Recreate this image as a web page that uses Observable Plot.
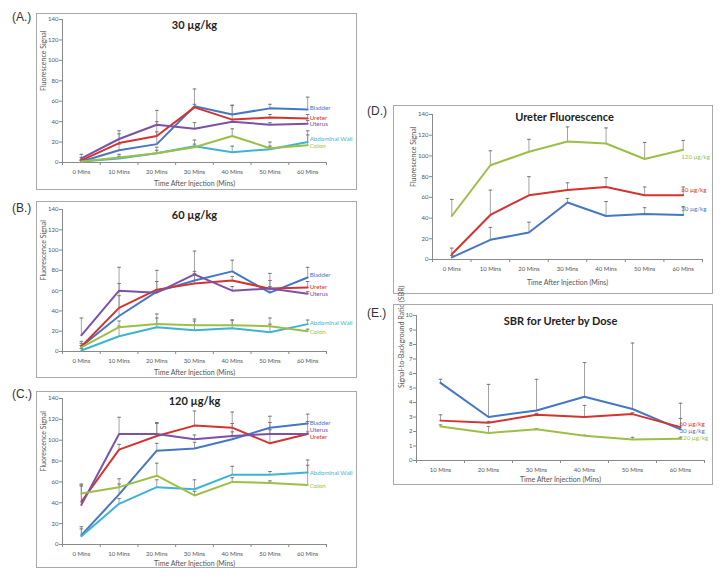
<!DOCTYPE html>
<html>
<head>
<meta charset="utf-8">
<script src="https://cdn.jsdelivr.net/npm/d3@7"></script>
<script src="https://cdn.jsdelivr.net/npm/@observablehq/plot@0.6"></script>
<style>
  html, body { margin: 0; padding: 0; background: #fff; }
  #page { position: relative; width: 726px; height: 581px; overflow: hidden; background: #fff; }
  .panel { position: absolute; }
  .panel svg { display: block; outline: 1.5px solid #a9a9a9; outline-offset: -1.5px; }
  .tag { position: absolute; font-family: "Liberation Sans", Arial, sans-serif; font-size: 12px; color: #333; line-height: 12px; }
</style>
</head>
<body>
<div id="page"></div>
<script>
// ---------- DATA ----------
const minutes = [0, 10, 20, 30, 40, 50, 60];
const sbrMinutes = [10, 20, 30, 40, 50, 60];
const tissues = ["Bladder", "Ureter", "Uterus", "Abdominal Wall", "Colon"];
const doses = ["120 µg/kg", "60 µg/kg", "30 µg/kg"];
const sbrDoses = ["30 µg/kg", "60 µg/kg", "120 µg/kg"];
const fluorTicks = [0, 20, 40, 60, 80, 100, 120, 140];
const sbrTicks = [0, 1, 2, 3, 4, 5, 6, 7, 8, 9, 10];

// (A.) 30 µg/kg
const a_bladder = [1, 12, 18, 55, 47, 53, 52];
const a_bladder_err = [2, 6, 33, 17, 9, 4, 12];
const a_ureter = [2, 19, 26, 54, 42, 44, 43];
const a_ureter_err = [3, 12, 4, 3, 14, 3, 4];
const a_uterus = [4, 23, 37, 33, 40, 37, 38];
const a_uterus_err = [4, 5, 3, 6, 2, 2, 3];
const a_abdwall = [1, 4, 9, 16, 10, 13, 20];
const a_abdwall_err = [1, 2, 3, 6, 6, 7, 11];
const a_colon = [1, 5, 9, 15, 26, 14, 17];
const a_colon_err = [1, 3, 6, 3, 7, 2, 10];

// (B.) 60 µg/kg
const b_bladder = [5, 35, 59, 70, 79, 58, 73];
const b_bladder_err = [5, 20, 21, 29, 11, 19, 10];
const b_ureter = [5, 43, 61, 67, 70, 62, 63];
const b_ureter_err = [3, 24, 8, 10, 4, 8, 6];
const b_uterus = [16, 60, 58, 76, 60, 62, 57];
const b_uterus_err = [17, 23, 3, 3, 4, 2, 2];
const b_abdwall = [1, 15, 24, 21, 23, 19, 27];
const b_abdwall_err = [2, 10, 13, 11, 8, 14, 4];
const b_colon = [4, 24, 27, 26, 26, 25, 20];
const b_colon_err = [2, 6, 6, 4, 5, 2, 2];

// (C.) 120 µg/kg
const c_bladder = [9, 48, 90, 92, 101, 112, 116];
const c_bladder_err = [8, 10, 7, 6, 7, 5, 9];
const c_ureter = [41, 91, 104, 114, 112, 97, 106];
const c_ureter_err = [15, 5, 12, 14, 15, 26, 12];
const c_uterus = [38, 106, 106, 101, 104, 106, 106];
const c_uterus_err = [20, 16, 11, 4, 12, 4, 2];
const c_abdwall = [8, 39, 55, 53, 67, 67, 69];
const c_abdwall_err = [7, 5, 7, 9, 8, 3, 12];
const c_colon = [49, 55, 66, 47, 60, 59, 57];
const c_colon_err = [8, 8, 12, 4, 4, 2, 19];

// (D.) Ureter Fluorescence
const d_120 = [42, 91, 104, 114, 112, 97, 106];
const d_120_err = [16, 14, 12, 14, 15, 16, 9];
const d_60 = [5, 43, 62, 67, 70, 62, 62];
const d_60_err = [6, 24, 18, 7, 9, 8, 8];
const d_30 = [2, 19, 26, 55, 42, 44, 43];
const d_30_err = [2, 12, 10, 4, 14, 6, 8];

// (E.) SBR for Ureter by Dose
const e_30 = [5.35, 3.0, 3.45, 4.4, 3.55, 2.15];
const e_30_err = [0.25, 2.25, 2.15, 2.35, 4.55, 1.8];
const e_60 = [2.75, 2.6, 3.15, 3.0, 3.2, 2.3];
const e_60_err = [0.4, 0.1, 0.1, 0.8, 0.1, 0.6];
const e_120 = [2.35, 1.9, 2.15, 1.7, 1.45, 1.5];
const e_120_err = [0.1, 0.45, 0.05, 0.05, 0.15, 0.1];

// ---------- STYLE ----------
const BLUE = "#4677c4", RED = "#d5332f", PURPLE = "#7b52a6", CYAN = "#3db3d6", GREEN = "#9cbf45";
const tissueColors = [BLUE, RED, PURPLE, CYAN, GREEN];
const doseColors = [GREEN, RED, BLUE];
const AXIS = "#8a8a8a", TEXT = "#555";
const FONT = "Lato, 'Open Sans', sans-serif";

const capSymbol = {
  draw(ctx, size) { const r = Math.sqrt(size / Math.PI); ctx.moveTo(-r, 0); ctx.lineTo(r, 0); }
};

function buildRows(xs, names, valueLists, errLists) {
  const rows = [];
  names.forEach((name, i) => {
    xs.forEach((x, j) => rows.push({series: name, x, v: valueLists[i][j], e: errLists[i][j]}));
  });
  return rows;
}

function panel(cfg) {
  const rows = buildRows(cfg.xs, cfg.names, cfg.values, cfg.errs);
  const [x0, x1] = cfg.xDomain;
  const ymax = cfg.yTicks[cfg.yTicks.length - 1];
  const boundaries = d3.range(x0, x1 + 0.001, 10);
  const labelMarks = cfg.names.map((name, i) => {
    const last = rows.filter(r => r.series === name).slice(-1);
    return Plot.text(last, {
      x: "x", y: "v", text: d => d.series, fill: cfg.colors[i],
      textAnchor: "start", dx: cfg.labelDx, dy: cfg.labelDy[i], fontSize: 6.2
    });
  });
  const svg = Plot.plot({
    width: cfg.width, height: cfg.height,
    marginLeft: cfg.ml, marginRight: cfg.mr, marginTop: cfg.mt, marginBottom: cfg.mb,
    style: {fontFamily: FONT, fontSize: "6px", color: TEXT, background: "#fff", overflow: "visible"},
    x: {domain: cfg.xDomain},
    y: {domain: [0, ymax]},
    color: {domain: cfg.names, range: cfg.colors},
    marks: [
      Plot.ruleY([0], {x1: x0, x2: x1, stroke: AXIS, strokeWidth: 1}),
      Plot.ruleX([x0], {y1: 0, y2: ymax, stroke: AXIS, strokeWidth: 1}),
      Plot.axisY({ticks: cfg.yTicks, tickSize: 3, tickPadding: 1, stroke: AXIS, label: null}),
      Plot.axisX({ticks: boundaries, tickSize: 3, stroke: AXIS, tickFormat: () => "", label: null}),
      Plot.axisX({ticks: cfg.xs, tickSize: 0, tickPadding: 7, tickFormat: d => d + " Mins", label: null}),
      Plot.ruleX(rows, {x: "x", y1: "v", y2: d => d.v + d.e, stroke: "#8c8c8c", strokeWidth: 0.8}),
      Plot.dot(rows, {x: "x", y: d => d.v + d.e, symbol: capSymbol, r: 1.8, stroke: "#777", strokeWidth: 1, fill: "none"}),
      Plot.line(rows, {x: "x", y: "v", z: "series", stroke: "series", strokeWidth: 2}),
      ...labelMarks,
      Plot.text([cfg.title], {frameAnchor: "top", lineAnchor: "middle", dx: cfg.titleDx || 0, dy: cfg.titleDy, fontSize: 11, fontWeight: "bold", fill: "#222"}),
      Plot.text(["Time After Injection (Mins)"], {frameAnchor: "bottom", lineAnchor: "middle", dy: cfg.xTitleDy, fontSize: 7, fill: TEXT}),
      Plot.text([cfg.yTitle], {frameAnchor: "left", rotate: -90, lineAnchor: "middle", dx: cfg.yTitleDx, fontSize: 7, fill: TEXT})
    ]
  });
  const holder = document.createElement("div");
  holder.className = "panel";
  holder.style.left = cfg.left + "px";
  holder.style.top = cfg.top + "px";
  holder.appendChild(svg);
  document.getElementById("page").appendChild(holder);
  const tag = document.createElement("div");
  tag.className = "tag";
  tag.textContent = cfg.tag;
  tag.style.left = cfg.tagPos[0] + "px";
  tag.style.top = cfg.tagPos[1] + "px";
  document.getElementById("page").appendChild(tag);
}

const tissueCommon = {
  xs: minutes, names: tissues, colors: tissueColors, xDomain: [-5, 65], yTicks: fluorTicks,
  width: 321, height: 177, ml: 26, mr: 31, yTitle: "Fluorescence Signal", yTitleDx: -19, labelDx: 2
};

panel({...tissueCommon, tag: "(A.)", tagPos: [12, 11], left: 36, top: 13, mt: 6, mb: 28,
  title: "30 µg/kg", titleDy: 6, xTitleDy: 21,
  values: [a_bladder, a_ureter, a_uterus, a_abdwall, a_colon],
  errs: [a_bladder_err, a_ureter_err, a_uterus_err, a_abdwall_err, a_colon_err],
  labelDy: [-1, -1, 0.5, -3, 0.5]});

panel({...tissueCommon, tag: "(B.)", tagPos: [12, 202], left: 36, top: 201, mt: 8, mb: 27,
  title: "60 µg/kg", titleDy: 6, xTitleDy: 21,
  values: [b_bladder, b_ureter, b_uterus, b_abdwall, b_colon],
  errs: [b_bladder_err, b_ureter_err, b_uterus_err, b_abdwall_err, b_colon_err],
  labelDy: [-2, -1, 0.5, -1, 0.5]});

panel({...tissueCommon, tag: "(C.)", tagPos: [12, 388], left: 36, top: 391, mt: 7, mb: 24,
  title: "120 µg/kg", titleDy: 3, xTitleDy: 19,
  values: [c_bladder, c_ureter, c_uterus, c_abdwall, c_colon],
  errs: [c_bladder_err, c_ureter_err, c_uterus_err, c_abdwall_err, c_colon_err],
  labelDy: [-0.5, 3.5, -3.5, 0, 1]});

panel({xs: minutes, names: doses, colors: doseColors, xDomain: [-5, 65], yTicks: fluorTicks,
  tag: "(D.)", tagPos: [367, 105], left: 393, top: 105, width: 320, height: 189,
  ml: 39, mr: 11, mt: 9, mb: 35, title: "Ureter Fluorescence", titleDy: 3, titleDx: -3, xTitleDy: 23,
  yTitle: "Fluorescence Signal", yTitleDx: -19, labelDx: -2,
  values: [d_120, d_60, d_30], errs: [d_120_err, d_60_err, d_30_err],
  labelDy: [7, -5, -6]});

panel({xs: sbrMinutes, names: sbrDoses, colors: [BLUE, RED, GREEN],
  xDomain: [5, 65], yTicks: sbrTicks,
  tag: "(E.)", tagPos: [367, 307], left: 393, top: 304, width: 320, height: 181,
  ml: 23, mr: 9, mt: 11, mb: 25, title: "SBR for Ureter by Dose", titleDy: 6, xTitleDy: 19,
  yTitle: "Signal-to-Background Ratio (SBR)", yTitleDx: -15, labelDx: -1,
  values: [e_30, e_60, e_120], errs: [e_30_err, e_60_err, e_120_err],
  labelDy: [1.5, -3.5, -1]});
</script>
</body>
</html>
